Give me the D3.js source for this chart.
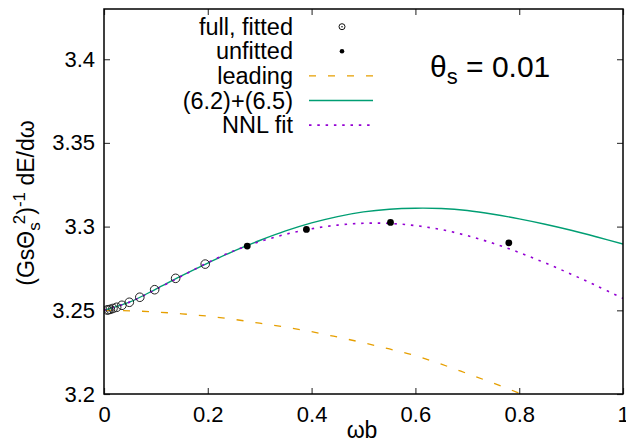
<!DOCTYPE html>
<html lang="en">
<head>
<meta charset="UTF-8">
<title>theta_s = 0.01</title>
<style>
    body { margin: 0; background: #fff; }
    svg { display: block; font-family: "Liberation Sans", Arial, sans-serif; }
    .tick line { stroke: #444; stroke-width: 1.2; }
    .tick text { font-size: 22px; fill: #000; }
</style>
</head>
<body>
<svg id="SVG"></svg>
<script src="https://d3js.org/d3.v7.min.js"></script>
<script>
    var width = 626, height = 446;
    var mLeft = 104, mRight = 623, mTop = 9, mBottom = 394;

    // data
    var fittedX = [0.0061, 0.0086, 0.0122, 0.0173, 0.0244, 0.0345, 0.0488, 0.069, 0.0976, 0.138, 0.195];
    var fittedY = [3.2502, 3.2503, 3.2506, 3.2511, 3.2518, 3.2530, 3.2548, 3.2578, 3.2623, 3.2691, 3.2776];
    var unfittedX = [0.276, 0.390, 0.552, 0.780];
    var unfittedY = [3.2884, 3.2983, 3.3025, 3.2903];

    var curveX = [0, 0.05, 0.1, 0.15, 0.2, 0.25, 0.3, 0.35, 0.4, 0.45, 0.5,
                  0.55, 0.6, 0.65, 0.7, 0.75, 0.8, 0.85, 0.9, 0.95, 1.0];
    var leadingY = [3.2500, 3.2497, 3.2490, 3.2479, 3.2465, 3.2446, 3.2423, 3.2399, 3.2372, 3.2340, 3.2306,
                    3.2269, 3.2229, 3.2178, 3.2122, 3.2065, 3.2005, 3.1940, 3.1870, 3.1795, 3.1715];
    var fullY = [3.2500, 3.2550, 3.2627, 3.2707, 3.2782, 3.2854, 3.2917, 3.2974, 3.3022, 3.3060, 3.3088,
                 3.3104, 3.3110, 3.3108, 3.3096, 3.3074, 3.3046, 3.3014, 3.2978, 3.2938, 3.2896];
    var nnlY = [3.2500, 3.2550, 3.2625, 3.2705, 3.2785, 3.2855, 3.2910, 3.2954, 3.2987, 3.3009, 3.3020,
                3.3019, 3.3006, 3.2982, 3.2946, 3.2900, 3.2845, 3.2783, 3.2716, 3.2645, 3.2571];

    var xTicks = [0, 0.2, 0.4, 0.6, 0.8, 1];
    var yTicks = [3.2, 3.25, 3.3, 3.35, 3.4];

    var svg = d3.select("#SVG").attr("width", width).attr("height", height);

    var x = d3.scaleLinear().domain([0, 1]).range([mLeft, mRight]);
    var y = d3.scaleLinear().domain([3.2, 3.43]).range([mBottom, mTop]);

    svg.append("clipPath").attr("id", "plot")
        .append("rect").attr("x", mLeft).attr("y", mTop)
        .attr("width", mRight - mLeft).attr("height", mBottom - mTop);

    // axes (ticks inward, mirrored)
    svg.append("g").attr("transform", `translate(0,${mBottom})`)
        .call(d3.axisBottom(x).tickValues(xTicks).tickSize(-6).tickPadding(12).tickFormat(d3.format("")))
        .call(g => g.select(".domain").remove());
    svg.append("g").attr("transform", `translate(0,${mTop})`)
        .call(d3.axisTop(x).tickValues(xTicks).tickSize(-6).tickFormat(""))
        .call(g => g.select(".domain").remove());
    svg.append("g").attr("transform", `translate(${mLeft},0)`)
        .call(d3.axisLeft(y).tickValues(yTicks).tickSize(-6).tickPadding(9).tickFormat(d3.format("")))
        .call(g => g.select(".domain").remove());
    svg.append("g").attr("transform", `translate(${mRight},0)`)
        .call(d3.axisRight(y).tickValues(yTicks).tickSize(-6).tickFormat(""))
        .call(g => g.select(".domain").remove());

    var plot = svg.append("g").attr("clip-path", "url(#plot)");

    var line = d3.line()
        .x((d, i) => x(curveX[i]))
        .y(d => y(d))
        .curve(d3.curveCatmullRom);

    plot.append("path").datum(leadingY).attr("d", line)
        .attr("fill", "none").attr("stroke", "#e69f00").attr("stroke-width", 1.3)
        .attr("stroke-dasharray", "7,12");
    plot.append("path").datum(fullY).attr("d", line)
        .attr("fill", "none").attr("stroke", "#009e73").attr("stroke-width", 1.4);
    plot.append("path").datum(nnlY).attr("d", line)
        .attr("fill", "none").attr("stroke", "#9400d3").attr("stroke-width", 1.6)
        .attr("stroke-dasharray", "2.5,5.8");

    plot.selectAll(".fit").data(fittedX).enter().append("circle")
        .attr("class", "fit")
        .attr("cx", d => x(d)).attr("cy", (d, i) => y(fittedY[i]))
        .attr("r", 4.3).attr("fill", "none").attr("stroke", "#222").attr("stroke-width", 1);
    plot.selectAll(".unfit").data(unfittedX).enter().append("circle")
        .attr("class", "unfit")
        .attr("cx", d => x(d)).attr("cy", (d, i) => y(unfittedY[i]))
        .attr("r", 3.4).attr("fill", "#000");

    // frame
    svg.append("rect").attr("x", mLeft).attr("y", mTop)
        .attr("width", mRight - mLeft).attr("height", mBottom - mTop)
        .attr("fill", "none").attr("stroke", "#000").attr("stroke-width", 1.5);

    // legend
    var legendNames = ["full, fitted", "unfitted", "leading", "(6.2)+(6.5)", "NNL fit"];
    var legend = svg.append("g").style("font-size", "23.5px");
    legendNames.forEach(function (name, i) {
        var cy = 26.7 + 24.6 * i;
        legend.append("text").attr("x", 293).attr("y", cy + 8)
            .attr("text-anchor", "end").text(name);
        if (i == 0) {
            legend.append("circle").attr("cx", 342).attr("cy", cy).attr("r", 3)
                .attr("fill", "none").attr("stroke", "#111").attr("stroke-width", 1);
            legend.append("circle").attr("cx", 342).attr("cy", cy).attr("r", 0.8).attr("fill", "#111");
        } else if (i == 1) {
            legend.append("circle").attr("cx", 342).attr("cy", cy).attr("r", 2.3).attr("fill", "#000");
        } else {
            var l = legend.append("line").attr("x1", 309).attr("x2", 373)
                .attr("y1", cy).attr("y2", cy).attr("fill", "none");
            if (i == 2) l.attr("stroke", "#e69f00").attr("stroke-width", 1.3).attr("stroke-dasharray", "7,12");
            if (i == 3) l.attr("stroke", "#009e73").attr("stroke-width", 1.4);
            if (i == 4) l.attr("stroke", "#9400d3").attr("stroke-width", 1.6).attr("stroke-dasharray", "2.5,5.8");
        }
    });

    // annotation
    var ann = svg.append("text").attr("x", 430).attr("y", 77).style("font-size", "30px");
    ann.append("tspan").text("θ");
    ann.append("tspan").attr("dy", 7).style("font-size", "22px").text("s");
    ann.append("tspan").attr("dy", -7).text(" = 0.01");

    // axis labels
    svg.append("text").attr("x", 362).attr("y", 438).attr("text-anchor", "middle")
        .style("font-size", "23px").text("ωb");

    var yl = svg.append("text").attr("transform", "translate(34,203) rotate(-90)")
        .attr("text-anchor", "middle").style("font-size", "23px");
    yl.append("tspan").text("(GsΘ");
    yl.append("tspan").attr("dy", 6).style("font-size", "17px").text("s");
    yl.append("tspan").attr("dy", -15).attr("dx", -2).style("font-size", "17px").text("2");
    yl.append("tspan").attr("dy", 9).text(")");
    yl.append("tspan").attr("dy", -9).style("font-size", "17px").text("-1");
    yl.append("tspan").attr("dy", 9).text(" dE/dω");
</script>
</body>
</html>
